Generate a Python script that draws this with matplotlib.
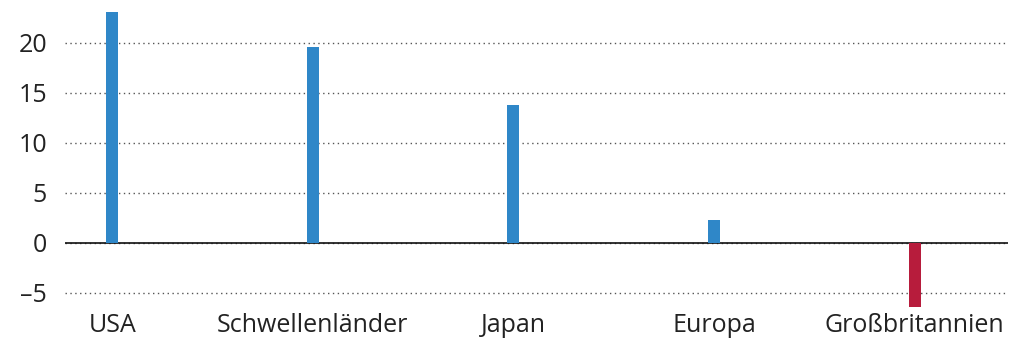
import matplotlib

matplotlib.use("Agg")
import matplotlib.pyplot as plt

categories = ["USA", "Schwellenländer", "Japan", "Europa", "Großbritannien"]
values = [23.1, 19.6, 13.8, 2.3, -6.4]
yticks = [-5, 0, 5, 10, 15, 20]

BLUE = "#2f87c8"
RED = "#b71c3c"

plt.rcParams["font.family"] = ["Open Sans", "DejaVu Sans"]

fig = plt.figure(figsize=(10.16, 3.42), dpi=100)
ax = fig.add_axes([0.064, 0.085, 0.928, 0.915])

x = list(range(len(categories)))
colors = [BLUE if v >= 0 else RED for v in values]
ax.bar(x, values, width=0.06, color=colors, zorder=3)

ax.set_xlim(-0.235, 4.465)
ax.set_ylim(-7, 24.3)
ax.set_yticks(yticks)
ax.set_yticklabels([str(t).replace("-", "\u2013") for t in yticks])
ax.set_xticks(x)
ax.set_xticklabels(categories)

ax.grid(axis="y", linestyle=(0, (1, 2.5)), color="#555555", linewidth=1.0, zorder=0)
ax.axhline(0, color="#111111", linewidth=1.2, zorder=2)

for spine in ax.spines.values():
    spine.set_visible(False)
ax.tick_params(axis="both", length=0, labelsize=18, colors="#222222")
ax.tick_params(axis="y", pad=13)
ax.tick_params(axis="x", pad=0)

fig.savefig("out.png", dpi=100)
